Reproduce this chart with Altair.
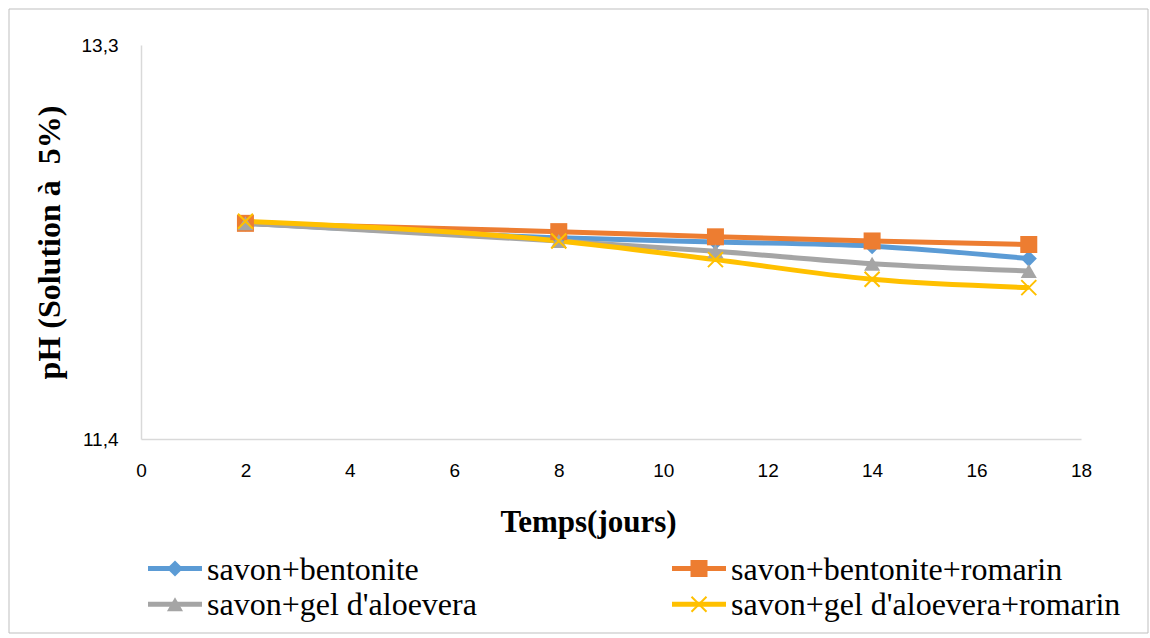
import altair as alt
import pandas as pd

# ---- data ----
days = [2, 8, 11, 14, 17]
series_names = [
    "savon+bentonite",
    "savon+bentonite+romarin",
    "savon+gel d'aloevera",
    "savon+gel d'aloevera+romarin",
]
ph_bentonite = [12.44, 12.37, 12.35, 12.33, 12.27]
ph_bentonite_romarin = [12.44, 12.40, 12.375, 12.355, 12.338]
ph_aloevera = [12.44, 12.355, 12.305, 12.245, 12.21]
ph_aloevera_romarin = [12.45, 12.355, 12.265, 12.17, 12.13]
colors = ["#5B9BD5", "#ED7D31", "#A5A5A5", "#FFC000"]
x_ticks = [0, 2, 4, 6, 8, 10, 12, 14, 16, 18]
y_ticks = [11.4, 13.3]

all_series = [ph_bentonite, ph_bentonite_romarin, ph_aloevera, ph_aloevera_romarin]
rows = []
for name, vals in zip(series_names, all_series):
    for d, v in zip(days, vals):
        rows.append({"jour": d, "pH": v, "serie": name})
df = pd.DataFrame(rows)

# legend entries: 2 columns, filled row by row
legend_df = pd.DataFrame(
    [{"serie": n, "lcol": i % 2, "lrow": i // 2} for i, n in enumerate(series_names)]
)

# marker styles
plot_shapes = ["diamond", "square", "triangle-up", "M-1,-1L1,1M-1,1L1,-1"]
plot_sizes = [260, 289, 260, 225]
plot_filled = [True, True, True, False]

x_enc = alt.X(
    "jour:Q",
    scale=alt.Scale(domain=[0, 18], nice=False),
    axis=alt.Axis(
        values=x_ticks,
        title="Temps(jours)",
        titleFont="Liberation Serif",
        titleFontSize=31,
        titleFontWeight="bold",
        titleColor="#000000",
        titleX=447,
        titleY=92,
        titleAlign="center",
        titleBaseline="alphabetic",
        labelFont="Liberation Sans",
        labelFontSize=19,
        labelColor="#000000",
        labelPadding=22,
        labelFlush=False,
        ticks=False,
        grid=False,
        domainColor="#d9d9d9",
        domainWidth=1.5,
    ),
)
y_enc = alt.Y(
    "pH:Q",
    scale=alt.Scale(domain=[11.4, 13.3], nice=False, zero=False),
    axis=alt.Axis(
        values=y_ticks,
        labelExpr="replace(format(datum.value, '.1f'), '.', ',')",
        title="pH (Solution à \u00a05%)",
        titleFont="Liberation Serif",
        titleFontSize=32,
        titleFontWeight="bold",
        titleColor="#000000",
        titleX=-82,
        titleBaseline="alphabetic",
        labelFont="Liberation Sans",
        labelFontSize=19,
        labelColor="#000000",
        labelPadding=23,
        labelFlush=False,
        ticks=False,
        grid=False,
        domainColor="#d9d9d9",
        domainWidth=1.5,
    ),
)

series_color = alt.Scale(domain=series_names, range=colors)

base = alt.Chart(df)

lines = base.mark_line(strokeWidth=5, interpolate="monotone").encode(
    x=x_enc,
    y=y_enc,
    detail="serie:N",
    stroke=alt.Stroke("serie:N", scale=series_color, legend=None),
)


def marker(chart, name, shp, sz, fl, col, **kw):
    if fl:
        return chart.mark_point(filled=True, shape=shp, size=sz, color=col, opacity=1, **kw)
    return chart.mark_point(filled=False, shape=shp, size=sz, color=col, strokeWidth=2, opacity=1, **kw)


point_layers = []
for name, shp, sz, fl, col in zip(series_names, plot_shapes, plot_sizes, plot_filled, colors):
    point_layers.append(
        marker(base, name, shp, sz, fl, col)
        .encode(x="jour:Q", y="pH:Q")
        .transform_filter(alt.datum.serie == name)
    )

main = alt.layer(lines, *point_layers)

# ---- legend drawn from the series list through its own scales ----
lbase = alt.Chart(legend_df)
leg_x = alt.X("lcol:Q", scale=alt.Scale(domain=[0, 1], range=[7, 531]), axis=None)
leg_y = alt.Y("lrow:Q", scale=alt.Scale(domain=[0, 1], range=[523.5, 559.3]), axis=None)

leg_lines = lbase.mark_rule(strokeWidth=5, x2Offset=54).encode(
    x=leg_x,
    x2="lcol:Q",
    y=leg_y,
    color=alt.Color("serie:N", scale=series_color, legend=None),
)
leg_markers = []
for name, shp, sz, fl, col in zip(series_names, plot_shapes, plot_sizes, plot_filled, colors):
    leg_markers.append(
        marker(lbase, name, shp, sz, fl, col, xOffset=27)
        .encode(x="lcol:Q", y="lrow:Q")
        .transform_filter(alt.datum.serie == name)
    )
leg_text = lbase.mark_text(
    align="left", baseline="middle", xOffset=59, dy=1,
    font="Liberation Serif", fontSize=32, color="#000000",
).encode(x="lcol:Q", y="lrow:Q", text="serie:N")

legend = alt.layer(leg_lines, *leg_markers, leg_text)

frame = alt.Chart(pd.DataFrame({"k": [0]})).mark_rect(
    fill=None, stroke="#bfbfbf", strokeWidth=1
).encode(
    x=alt.value(-132), x2=alt.value(1007), y=alt.value(-36), y2=alt.value(588)
)

chart = alt.layer(frame, main, legend).resolve_scale(
    x="independent", y="independent"
).properties(
    width=940,
    height=394,
    padding={"left": 8, "top": 8, "right": 0, "bottom": 0},
    background="#ffffff",
).configure_view(stroke=None)

chart.save("out.html", embed_options={"renderer": "svg", "actions": False})
